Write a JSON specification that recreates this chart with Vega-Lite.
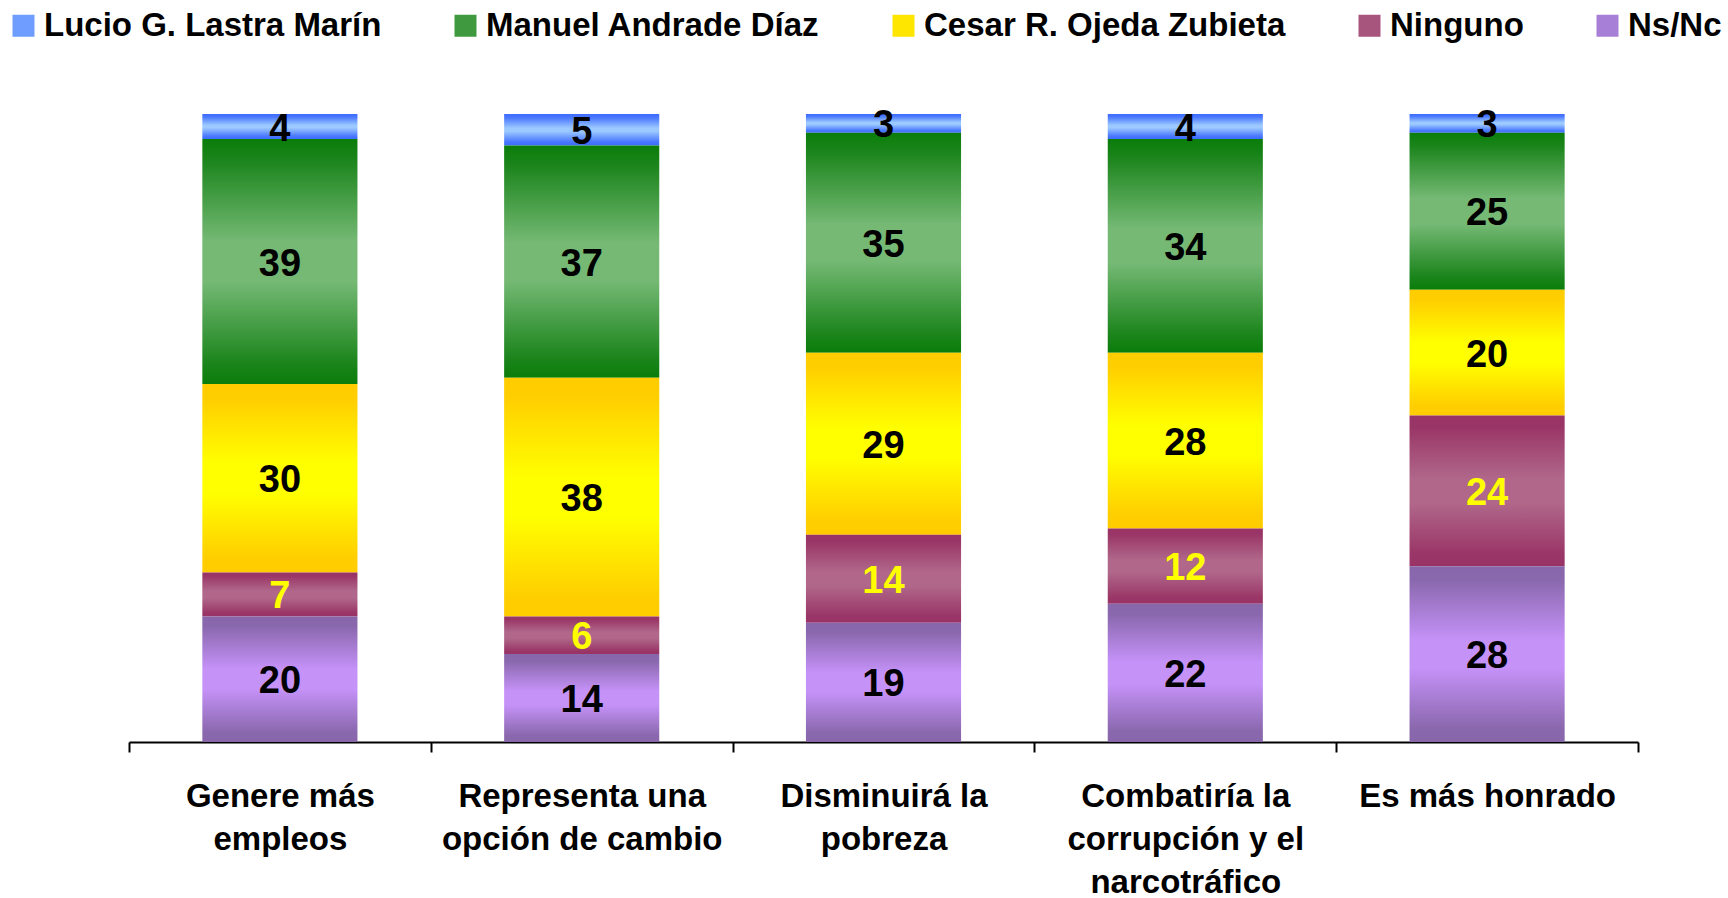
{
  "$schema": "https://vega.github.io/schema/vega-lite/v6.json",
  "width": 1509,
  "height": 628,
  "autosize": {"type": "none"},
  "padding": {"left": 129, "top": 114, "right": 90, "bottom": 156},
  "config": {"view": {"stroke": null}, "font": "Liberation Sans"},
  "datasets": {
    "series": [
      {"s": "Ns/Nc", "k": 1},
      {"s": "Ninguno", "k": 2},
      {"s": "Cesar R. Ojeda Zubieta", "k": 3},
      {"s": "Manuel Andrade Díaz", "k": 4},
      {"s": "Lucio G. Lastra Marín", "k": 5}
    ]
  },
  "data": {
    "values": [
      {"q": "Genere más|empleos", "s": "Lucio G. Lastra Marín", "v": 4},
      {"q": "Genere más|empleos", "s": "Manuel Andrade Díaz", "v": 39},
      {"q": "Genere más|empleos", "s": "Cesar R. Ojeda Zubieta", "v": 30},
      {"q": "Genere más|empleos", "s": "Ninguno", "v": 7},
      {"q": "Genere más|empleos", "s": "Ns/Nc", "v": 20},
      {"q": "Representa una|opción de cambio", "s": "Lucio G. Lastra Marín", "v": 5},
      {"q": "Representa una|opción de cambio", "s": "Manuel Andrade Díaz", "v": 37},
      {"q": "Representa una|opción de cambio", "s": "Cesar R. Ojeda Zubieta", "v": 38},
      {"q": "Representa una|opción de cambio", "s": "Ninguno", "v": 6},
      {"q": "Representa una|opción de cambio", "s": "Ns/Nc", "v": 14},
      {"q": "Disminuirá la|pobreza", "s": "Lucio G. Lastra Marín", "v": 3},
      {"q": "Disminuirá la|pobreza", "s": "Manuel Andrade Díaz", "v": 35},
      {"q": "Disminuirá la|pobreza", "s": "Cesar R. Ojeda Zubieta", "v": 29},
      {"q": "Disminuirá la|pobreza", "s": "Ninguno", "v": 14},
      {"q": "Disminuirá la|pobreza", "s": "Ns/Nc", "v": 19},
      {"q": "Combatiría la|corrupción y el|narcotráfico", "s": "Lucio G. Lastra Marín", "v": 4},
      {"q": "Combatiría la|corrupción y el|narcotráfico", "s": "Manuel Andrade Díaz", "v": 34},
      {"q": "Combatiría la|corrupción y el|narcotráfico", "s": "Cesar R. Ojeda Zubieta", "v": 28},
      {"q": "Combatiría la|corrupción y el|narcotráfico", "s": "Ninguno", "v": 12},
      {"q": "Combatiría la|corrupción y el|narcotráfico", "s": "Ns/Nc", "v": 22},
      {"q": "Es más honrado", "s": "Lucio G. Lastra Marín", "v": 3},
      {"q": "Es más honrado", "s": "Manuel Andrade Díaz", "v": 25},
      {"q": "Es más honrado", "s": "Cesar R. Ojeda Zubieta", "v": 20},
      {"q": "Es más honrado", "s": "Ninguno", "v": 24},
      {"q": "Es más honrado", "s": "Ns/Nc", "v": 28}
    ]
  },
  "transform": [
    {"lookup": "s", "from": {"data": {"name": "series"}, "key": "s", "fields": ["k"]}}
  ],
  "encoding": {
    "x": {
      "field": "q",
      "type": "nominal",
      "sort": null,
      "scale": {"paddingInner": 0, "paddingOuter": 0},
      "axis": {
        "title": null,
        "tickBand": "extent",
        "labelExpr": "split(datum.label, '|')",
        "labelAngle": 0,
        "labelFontSize": 33,
        "labelFontWeight": "bold",
        "labelColor": "#000000",
        "labelLineHeight": 43,
        "labelPadding": 28,
        "labelLimit": 400,
        "domainColor": "#000000",
        "domainWidth": 2,
        "tickColor": "#000000",
        "tickWidth": 2,
        "tickSize": 10,
        "grid": false
      }
    },
    "order": {"field": "k", "type": "quantitative", "sort": "ascending"}
  },
  "layer": [
    {
      "mark": {"type": "bar", "strokeWidth": 0, "width": {"band": 0.514}},
      "encoding": {
        "y": {"field": "v", "type": "quantitative", "stack": "zero", "scale": {"domain": [0, 100]}, "axis": null},
        "color": {
          "field": "s",
          "type": "nominal",
          "sort": ["Lucio G. Lastra Marín", "Manuel Andrade Díaz", "Cesar R. Ojeda Zubieta", "Ninguno", "Ns/Nc"],
          "scale": {
            "domain": ["Lucio G. Lastra Marín", "Manuel Andrade Díaz", "Cesar R. Ojeda Zubieta", "Ninguno", "Ns/Nc"],
            "range": ["#6E9CFF", "#3F9A3F", "#FFE600", "#A8557E", "#A87FD6"]
          },
          "condition": [
            {"test": "datum.s === 'Lucio G. Lastra Marín'", "value": {"gradient": "linear", "x1": 0, "y1": 0, "x2": 0, "y2": 1, "stops": [{"offset": 0, "color": "#3D6BFF"}, {"offset": 0.12, "color": "#4A78FF"}, {"offset": 0.45, "color": "#9CC9FF"}, {"offset": 0.55, "color": "#9CC9FF"}, {"offset": 0.88, "color": "#4A78FF"}, {"offset": 1, "color": "#3D6BFF"}]}},
            {"test": "datum.s === 'Manuel Andrade Díaz'", "value": {"gradient": "linear", "x1": 0, "y1": 0, "x2": 0, "y2": 1, "stops": [{"offset": 0, "color": "#0A7D0A"}, {"offset": 0.08, "color": "#1A841A"}, {"offset": 0.42, "color": "#75B975"}, {"offset": 0.58, "color": "#75B975"}, {"offset": 0.92, "color": "#1A841A"}, {"offset": 1, "color": "#0A7D0A"}]}},
            {"test": "datum.s === 'Cesar R. Ojeda Zubieta'", "value": {"gradient": "linear", "x1": 0, "y1": 0, "x2": 0, "y2": 1, "stops": [{"offset": 0, "color": "#FFCC00"}, {"offset": 0.08, "color": "#FFCE00"}, {"offset": 0.42, "color": "#FFFF00"}, {"offset": 0.58, "color": "#FFFF00"}, {"offset": 0.92, "color": "#FFCE00"}, {"offset": 1, "color": "#FFCC00"}]}},
            {"test": "datum.s === 'Ninguno'", "value": {"gradient": "linear", "x1": 0, "y1": 0, "x2": 0, "y2": 1, "stops": [{"offset": 0, "color": "#993366"}, {"offset": 0.08, "color": "#9A3667"}, {"offset": 0.42, "color": "#B0678A"}, {"offset": 0.58, "color": "#B0678A"}, {"offset": 0.92, "color": "#9A3667"}, {"offset": 1, "color": "#993366"}]}},
            {"test": "datum.s === 'Ns/Nc'", "value": {"gradient": "linear", "x1": 0, "y1": 0, "x2": 0, "y2": 1, "stops": [{"offset": 0, "color": "#8766AA"}, {"offset": 0.08, "color": "#8A68AE"}, {"offset": 0.42, "color": "#C592F8"}, {"offset": 0.58, "color": "#C592F8"}, {"offset": 0.92, "color": "#8A68AE"}, {"offset": 1, "color": "#8766AA"}]}}
          ],
          "legend": {
            "title": null,
            "orient": "none",
            "direction": "horizontal",
            "legendX": -122,
            "legendY": -105,
            "columns": 5,
            "columnPadding": 67,
            "symbolType": "square",
            "symbolSize": 484,
            "symbolStrokeWidth": 0,
            "symbolOpacity": 1,
            "labelOffset": 4,
            "labelFontSize": 33,
            "labelFontWeight": "bold",
            "labelColor": "#000000",
            "labelLimit": 600
          }
        }
      }
    },
    {
      "mark": {"type": "text", "fontSize": 38, "fontWeight": "bold", "baseline": "middle", "align": "center", "dy": 3},
      "encoding": {
        "y": {"field": "v", "type": "quantitative", "stack": "zero", "bandPosition": 0.5},
        "detail": {"field": "s"},
        "text": {"field": "v", "type": "quantitative"},
        "color": {"condition": {"test": "datum.s === 'Ninguno'", "value": "#FFFF00"}, "value": "#000000"}
      }
    }
  ]
}
